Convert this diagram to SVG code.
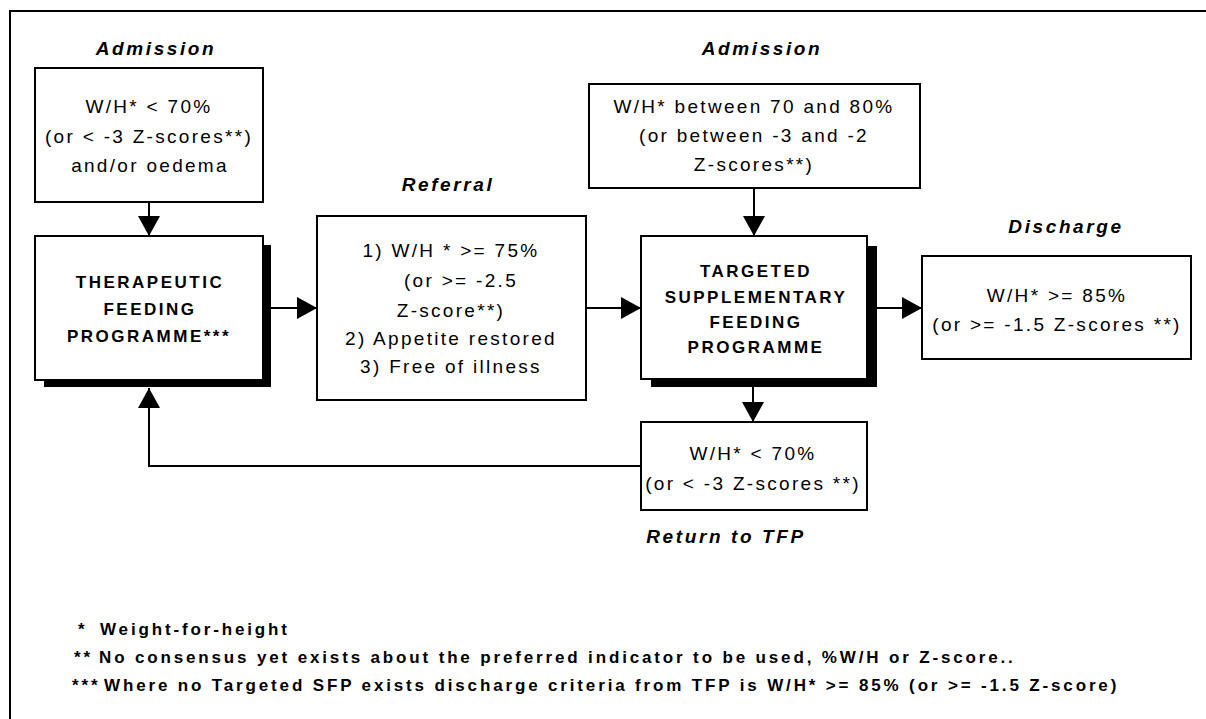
<svg xmlns="http://www.w3.org/2000/svg" width="1206" height="719" viewBox="0 0 1206 719">
<defs>
<marker id="ah" markerUnits="userSpaceOnUse" markerWidth="20" markerHeight="22" refX="20" refY="11" orient="auto">
<path d="M0,0 L20,11 L0,22 Z" fill="#000"/>
</marker>
</defs>
<style>
.box{fill:#fff;stroke:#000;stroke-width:2}
.shadow{fill:#000}
.t{font-family:"Liberation Sans",Arial,sans-serif;font-size:19px;letter-spacing:2.3px;text-anchor:middle;fill:#000}
.b{font-family:"Liberation Sans",Arial,sans-serif;font-size:17px;font-weight:bold;letter-spacing:2.5px;text-anchor:middle;fill:#000}
.lab{font-family:"Liberation Sans",Arial,sans-serif;font-size:19px;font-weight:bold;font-style:italic;letter-spacing:2.6px;text-anchor:middle;fill:#000}
.fn{font-family:"Liberation Sans",Arial,sans-serif;font-size:17px;font-weight:bold;letter-spacing:2.85px;fill:#000}
.c{fill:none;stroke:#000;stroke-width:2}
</style>
<rect x="10" y="11" width="1210" height="720" fill="none" stroke="#000" stroke-width="2"/>

<g id="connectors">
<line class="c" x1="149" y1="202" x2="149" y2="236" marker-end="url(#ah)"/>
<line class="c" x1="271" y1="308" x2="317" y2="308" marker-end="url(#ah)"/>
<line class="c" x1="586" y1="308" x2="641" y2="308" marker-end="url(#ah)"/>
<line class="c" x1="754" y1="188" x2="754" y2="236" marker-end="url(#ah)"/>
<line class="c" x1="877" y1="308" x2="922" y2="308" marker-end="url(#ah)"/>
<line class="c" x1="753" y1="387" x2="753" y2="422" marker-end="url(#ah)"/>
<polyline class="c" points="641,466 149,466 149,388" marker-end="url(#ah)"/>
</g>

<g id="label-admission-1"><text class="lab" x="156" y="55">Admission</text></g>
<g id="admission-tfp">
<rect class="box" x="35" y="68" width="228" height="134"/>
<text class="t" x="149" y="113">W/H* &lt; 70%</text>
<text class="t" x="149" y="143">(or &lt; -3 Z-scores**)</text>
<text class="t" x="150" y="172">and/or oedema</text>
</g>

<g id="tfp">
<rect class="shadow" x="44" y="245" width="227" height="142"/>
<rect class="box" x="35" y="236" width="228" height="144"/>
<text class="b" x="150" y="288">THERAPEUTIC</text>
<text class="b" x="150" y="315">FEEDING</text>
<text class="b" x="149" y="342">PROGRAMME***</text>
</g>

<g id="label-referral"><text class="lab" x="448" y="191">Referral</text></g>
<g id="referral">
<rect class="box" x="317" y="216" width="269" height="184"/>
<text class="t" x="451" y="257">1) W/H * &gt;= 75%</text>
<text class="t" x="461" y="287">(or &gt;= -2.5</text>
<text class="t" x="451" y="317">Z-score**)</text>
<text class="t" x="451" y="345">2) Appetite restored</text>
<text class="t" x="451" y="373">3) Free of illness</text>
</g>

<g id="label-admission-2"><text class="lab" x="762" y="55">Admission</text></g>
<g id="admission-tsfp">
<rect class="box" x="589" y="84" width="331" height="104"/>
<text class="t" x="754" y="113">W/H* between 70 and 80%</text>
<text class="t" x="754" y="142">(or between -3 and -2</text>
<text class="t" x="754" y="171">Z-scores**)</text>
</g>

<g id="tsfp">
<rect class="shadow" x="651" y="246" width="226" height="141"/>
<rect class="box" x="641" y="236" width="226" height="143"/>
<text class="b" x="756" y="277">TARGETED</text>
<text class="b" x="756" y="303">SUPPLEMENTARY</text>
<text class="b" x="756" y="328">FEEDING</text>
<text class="b" x="756" y="353">PROGRAMME</text>
</g>

<g id="label-discharge"><text class="lab" x="1066" y="233">Discharge</text></g>
<g id="discharge">
<rect class="box" x="922" y="256" width="269" height="103"/>
<text class="t" x="1057" y="302">W/H* &gt;= 85%</text>
<text class="t" x="1057" y="331">(or &gt;= -1.5 Z-scores **)</text>
</g>

<g id="return">
<rect class="box" x="641" y="422" width="226" height="88"/>
<text class="t" x="753" y="460">W/H* &lt; 70%</text>
<text class="t" x="753" y="490">(or &lt; -3 Z-scores **)</text>
</g>
<g id="label-return"><text class="lab" x="726" y="543">Return to TFP</text></g>

<g id="footnotes">
<text class="fn" x="78" y="635">*</text>
<text class="fn" x="100" y="635">Weight-for-height</text>
<text class="fn" x="74" y="663">**</text>
<text class="fn" x="99" y="663">No consensus yet exists about the preferred indicator to be used, %W/H or Z-score..</text>
<text class="fn" x="72" y="691">***</text>
<text class="fn" x="104" y="691">Where no Targeted SFP exists discharge criteria from TFP is W/H* &gt;= 85% (or &gt;= -1.5 Z-score)</text>
</g>
</svg>
